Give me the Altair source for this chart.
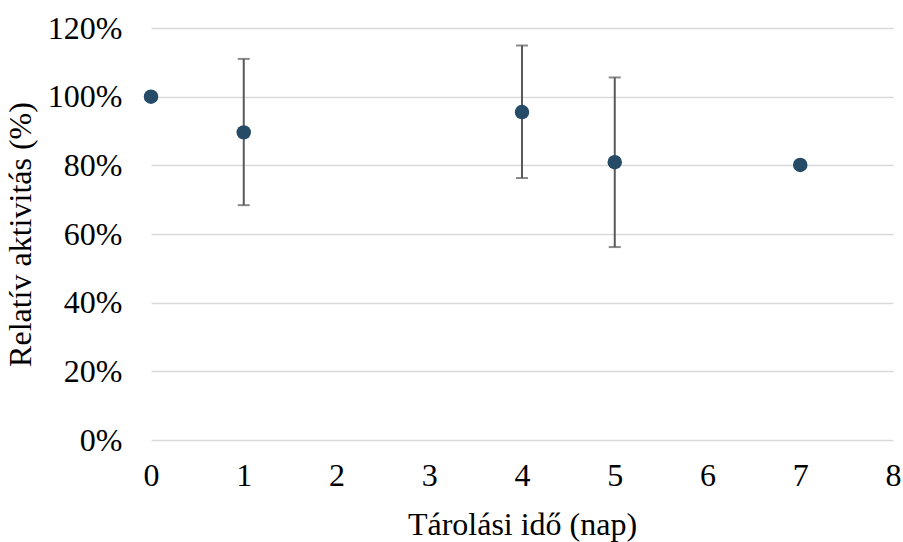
import altair as alt
import pandas as pd

days = [0, 1, 4, 5, 7]
means = [1.00, 0.896, 0.955, 0.809, 0.801]
err_low = [1.00, 0.684, 0.763, 0.562, 0.795]
err_high = [1.00, 1.110, 1.149, 1.056, 0.807]

df = pd.DataFrame({"day": days, "mean": means, "lo": err_low, "hi": err_high})

FONT = "Liberation Serif"
x = alt.X("day:Q", scale=alt.Scale(domain=[0, 8], nice=False, zero=False),
          axis=alt.Axis(title="Tárolási idő (nap)", values=list(range(0, 9)), format="d", grid=False,
                        domain=False, ticks=False, labelFlush=False, labelPadding=20, titlePadding=18))
y_axis = alt.Axis(title="Relatív aktivitás (%)", format=".0%", values=[0, 0.2, 0.4, 0.6, 0.8, 1.0, 1.2],
                  grid=True, gridColor="#d9d9d9", gridWidth=1.5, domain=False, ticks=False,
                  labelPadding=29, titlePadding=10)
yscale = alt.Scale(domain=[0, 1.2], nice=False)

base = alt.Chart(df)
rules = base.mark_rule(color="#595959", strokeWidth=2).encode(
    x=x, y=alt.Y("lo:Q", scale=yscale, axis=y_axis), y2="hi:Q")
caps_lo = base.mark_tick(color="#595959", size=12, thickness=2, orient="horizontal").encode(
    x="day:Q", y=alt.Y("lo:Q", scale=yscale))
caps_hi = base.mark_tick(color="#595959", size=12, thickness=2, orient="horizontal").encode(
    x="day:Q", y=alt.Y("hi:Q", scale=yscale))
points = base.mark_circle(color="#264B67", opacity=1, size=210).encode(
    x="day:Q", y=alt.Y("mean:Q", scale=yscale))

chart = alt.layer(rules, caps_lo, caps_hi, points).properties(
    width=742, height=412,
    autosize=alt.AutoSizeParams(type="none"),
    padding={"left": 151, "top": 28, "right": 10, "bottom": 102},
).configure_view(stroke=None).configure_axis(
    labelFont=FONT, titleFont=FONT, labelFontSize=32, titleFontSize=32,
    labelColor="#000000", titleColor="#000000", titleFontWeight="normal",
)

chart.save("out.html", embed_options={"renderer": "svg", "actions": False})
